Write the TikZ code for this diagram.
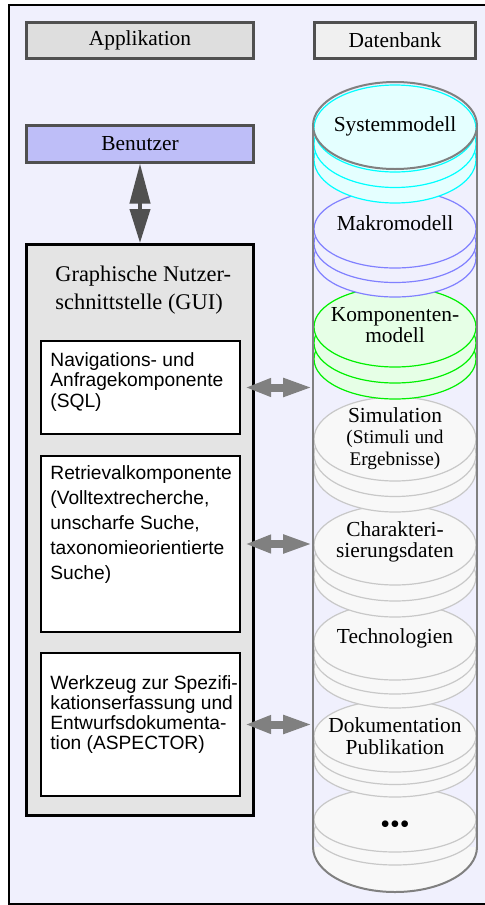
\documentclass[tikz,border=0pt]{standalone}
\usepackage{fontspec}
\setmainfont{Liberation Serif}
\setsansfont{Liberation Sans}
\usetikzlibrary{arrows.meta,positioning,calc}

\definecolor{bglila}{RGB}{240,240,253}
\definecolor{framegray}{RGB}{80,80,80}
\definecolor{appgray}{RGB}{222,222,222}
\definecolor{dbgray}{RGB}{240,240,240}
\definecolor{userlila}{RGB}{190,190,248}
\definecolor{guigray}{RGB}{228,228,228}
\definecolor{arrowgray}{RGB}{128,128,128}
\definecolor{cylgray}{RGB}{128,128,128}
\definecolor{disklinegray}{RGB}{200,200,200}
\definecolor{diskgray}{RGB}{248,248,248}
\definecolor{syscyan}{RGB}{0,255,255}
\definecolor{sysfill}{RGB}{228,255,255}
\definecolor{makroblue}{RGB}{128,128,255}
\definecolor{kompogreen}{RGB}{0,240,0}
\definecolor{kompofill}{RGB}{230,255,230}

\newcommand{\serifnorm}{\fontsize{10.7}{10.5}\selectfont}
\newcommand{\guifont}{\fontsize{11.2}{14}\selectfont}

% one database disk: centre y, y radius, layer offset, style, layers
\newcommand{\dbdisk}[5]{%
  \foreach \k in {#5}
    \draw[#4] (395,{-(#1)-(#3)*\k}) ellipse [x radius=81,y radius=#2];
}

\begin{document}
\begin{tikzpicture}[x=0.5pt,y=0.5pt]
  %----- styles
  \tikzset{
    hdr/.style      ={draw=framegray,line width=1.5pt,minimum height=18pt,inner sep=0pt,font=\serifnorm},
    guibox/.style   ={draw=black,line width=1.5pt,fill=guigray,minimum width=113.5pt,minimum height=285.5pt,inner sep=0pt},
    compbox/.style  ={draw=black,line width=1pt,fill=white,minimum width=99.5pt,inner sep=0pt},
    comptext/.style ={anchor=north west,align=left,inner sep=0pt,font=\sffamily\fontsize{9.6}{#1}\selectfont},
    comptext/.default=10.25,
    dbtext/.style   ={align=center,inner sep=0pt,font=\serifnorm},
    dbarrow/.style  ={{Triangle[length=13pt,width=8.5pt]}-{Triangle[length=15pt,width=8.5pt]},line width=4pt,draw=arrowgray,shorten <=2pt},
    userarrow/.style={{Triangle[length=20pt,width=10pt]}-{Triangle[length=17pt,width=10pt]},line width=2pt,draw=framegray},
    cylline/.style  ={draw=cylgray,line width=1pt},
    sysdisk/.style  ={draw=syscyan,fill=sysfill,line width=0.6pt},
    makrodisk/.style={draw=makroblue,fill=bglila,line width=0.6pt},
    kompodisk/.style={draw=kompogreen,fill=kompofill,line width=0.6pt},
    graydisk/.style ={draw=disklinegray,fill=diskgray,line width=0.6pt}
  }

  %----- page and frame
  \useasboundingbox (0,0) rectangle (485,-905);
  \fill[white] (0,0) rectangle (485,-905);
  \draw[line width=1pt,fill=bglila] (9,-5) rectangle (490,-904);

  %----- headers
  \node[hdr,fill=appgray,minimum width=113.5pt] (app) at (140,-40) {Applikation};
  \node[hdr,fill=dbgray,minimum width=80.5pt]   (db)  at (395,-40) {Datenbank};

  %----- application side
  \node[hdr,fill=userlila,minimum width=113.5pt,minimum height=18.5pt] (user) at (140,-143.5) {Benutzer};
  \node[guibox] (gui) at (140,-530) {};
  \node[anchor=north west,align=left,inner sep=0pt,font=\guifont] (guititle)
    at ([xshift=15pt,yshift=-11.5pt]gui.north west) {Graphische Nutzer-\\schnittstelle (GUI)};

  % component boxes inside the GUI
  \node[compbox,minimum height=46.5pt] (nav)  at (140.5,-387.5) {};
  \node[compbox,minimum height=88pt]   (ret)  at (140.5,-544)   {};
  \node[compbox,minimum height=71.5pt] (tool) at (140.5,-724.5) {};

  \node[comptext] (navtxt) at ([xshift=5pt,yshift=-6pt]nav.north west)
    {Navigations- und\\Anfragekomponente\\(SQL)};
  \node[comptext=12.5] (rettxt) at ([xshift=5pt,yshift=-5pt]ret.north west)
    {Retrievalkomponente\\(Volltextrecherche,\\unscharfe Suche,\\taxonomieorientierte\\Suche)};
  \node[comptext=10] (tooltxt) at ([xshift=5pt,yshift=-11.5pt]tool.north west)
    {Werkzeug zur Spezifi-\\kationserfassung und\\Entwurfsdokumenta-\\tion (ASPECTOR)};

  %----- database cylinder
  \draw[cylline,fill=diskgray] (313,-847) arc[start angle=180,end angle=360,x radius=82,y radius=45];

  % disks, lowest first
  \dbdisk{819.5}{32.5}{13}{graydisk}{1,0}
  \dbdisk{736}{36}{12.5}{graydisk}{2,1,0}
  \dbdisk{641.5}{38.5}{14}{graydisk}{2,1,0}
  \dbdisk{545}{40}{16}{graydisk}{2,1,0}
  \dbdisk{439}{42}{15.5}{graydisk}{2,1,0}
  \dbdisk{327}{40}{16}{kompodisk}{2,1,0}
  \dbdisk{229}{39}{14.5}{makrodisk}{2,1,0}
  \dbdisk{128.5}{43.5}{15.5}{sysdisk}{2,1,0}

  % sides and lid
  \coordinate (cylL) at (313,-125.5);
  \coordinate (cylR) at (477,-125.5);
  \draw[cylline] (cylL) -- (313,-847);
  \draw[cylline] (cylR) -- (477,-847);
  \draw[cylline] (395,-125.5) ellipse [x radius=82,y radius=43.5];

  % disk labels
  \node[dbtext] (systxt)   at (395,-126)   {Systemmodell};
  \node[dbtext] (makrotxt) at (395,-223)   {Makromodell};
  \node[dbtext] (kompotxt) at (395,-325.5) {Komponenten-\\modell};
  \node[dbtext,font=\fontsize{10.7}{10.75}\selectfont] (simtxt) at (395,-438.5)
    {Simulation\\\fontsize{9.65}{10.75}\selectfont(Stimuli und\\\fontsize{9.65}{10.75}\selectfont Ergebnisse)};
  \node[dbtext] (chartxt)  at (395,-542)   {Charakteri-\\sierungsdaten};
  \node[dbtext] (techtxt)  at (395,-638)   {Technologien};
  \node[dbtext,font=\fontsize{10.7}{11}\selectfont] (dokutxt) at (395,-736) {Dokumentation\\Publikation};
  \node[dbtext,font=\fontsize{14}{14}\selectfont] (moretxt) at (395,-827) {•••};

  %----- connections
  \draw[userarrow] (user.south) -- (gui.north);
  \draw[dbarrow] (nav.east)  -- (nav.east -| cylL);
  \draw[dbarrow] (ret.east)  -- (ret.east -| cylL);
  \draw[dbarrow] (tool.east) -- (tool.east -| cylL);
\end{tikzpicture}
\end{document}
